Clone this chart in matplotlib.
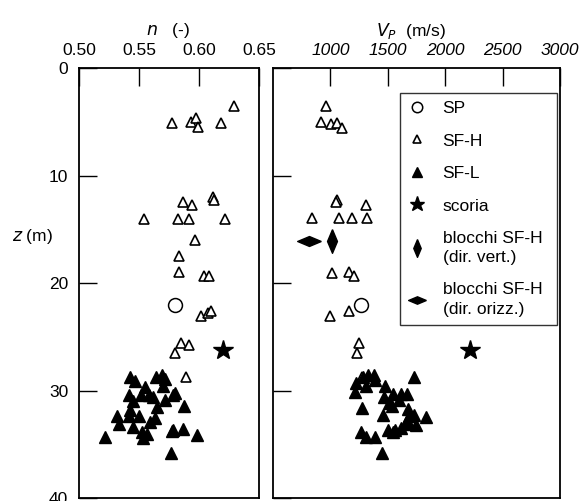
import matplotlib
matplotlib.use("Agg")
import matplotlib.pyplot as plt

plt.rcParams['font.family'] = ['Liberation Sans', 'DejaVu Sans']

# porosity n (-) vs depth z (m)
n_sp = [0.580]
z_n_sp = [22.0]
n_sfh = [0.629, 0.577, 0.593, 0.597, 0.599, 0.618, 0.611, 0.612, 0.586, 0.594,
         0.554, 0.582, 0.591, 0.621, 0.596, 0.583, 0.583, 0.604, 0.608,
         0.601, 0.607, 0.6095, 0.585, 0.591, 0.580, 0.589]
z_n_sfh = [3.5, 5.1, 5.0, 4.6, 5.5, 5.1, 12.0, 12.3, 12.5, 12.7,
           14.0, 14.0, 14.0, 14.0, 16.0, 17.5, 19.0, 19.3, 19.3,
           23.1, 22.8, 22.6, 25.6, 25.8, 26.5, 28.7]
n_sfl = [0.542, 0.546, 0.564, 0.569, 0.571, 0.570, 0.555, 0.541, 0.551, 0.558,
         0.561, 0.580, 0.578, 0.545, 0.571, 0.587, 0.565, 0.542, 0.531, 0.541,
         0.550, 0.563, 0.559, 0.533, 0.545, 0.552, 0.556, 0.553, 0.577, 0.578,
         0.586, 0.598, 0.521, 0.576]
z_n_sfl = [28.7, 29.1, 28.7, 28.6, 28.9, 29.6, 29.7, 30.4, 30.4, 30.4,
           30.6, 30.2, 30.4, 31.0, 30.9, 31.4, 31.5, 31.8, 32.4, 32.4,
           32.4, 32.6, 32.9, 33.1, 33.4, 33.9, 34.0, 34.4, 33.8, 33.7,
           33.6, 34.1, 34.3, 35.8]
n_scoria = [0.620]
z_n_scoria = [26.2]

# P-wave velocity Vp (m/s) vs depth z (m)
vp_sp = [1266]
z_vp_sp = [22.0]
vp_sfh = [960, 916, 1009, 1060, 1105, 1061, 1047, 1309, 843, 1076, 1192, 1318,
          1012, 1163, 1207, 997, 1166, 1245, 1231, 1275]
z_vp_sfh = [3.5, 5.0, 5.2, 5.1, 5.6, 12.3, 12.5, 12.7, 13.9, 13.9, 13.9, 13.9,
            19.1, 19.0, 19.3, 23.1, 22.6, 25.6, 26.5, 28.7]
vp_sfl = [1731, 1280, 1323, 1376, 1391, 1222, 1309, 1210, 1475, 1463,
          1542, 1615, 1664, 1513, 1537, 1600, 1271, 1673, 1461, 1688,
          1731, 1834, 1659, 1746, 1688, 1615, 1498, 1542, 1266, 1309,
          1391, 1449, 1565]
z_vp_sfl = [28.7, 28.7, 28.6, 28.6, 29.0, 29.3, 29.6, 30.1, 29.6, 30.6,
            30.3, 30.3, 30.3, 31.2, 31.4, 30.9, 31.6, 31.7, 32.3, 32.4,
            32.3, 32.5, 32.9, 33.2, 33.1, 33.5, 33.7, 33.9, 33.9, 34.3,
            34.3, 35.8, 33.7]
vp_scoria = [2212]
z_vp_scoria = [26.2]
vp_block_v = [1017]
z_vp_block_v = [16.1]
vp_block_h = [814]
z_vp_block_h = [16.1]

diam_v = [(0, 1), (0.42, 0), (0, -1), (-0.42, 0), (0, 1)]
diam_h = [(1, 0), (0, 0.42), (-1, 0), (0, -0.42), (1, 0)]

FS = 12.5

fig = plt.figure(figsize=(5.85, 5.01), dpi=100)
ax1 = fig.add_axes([0.1356, 0.006, 0.3077, 0.858])
ax2 = fig.add_axes([0.4667, 0.006, 0.4906, 0.858])

open_tri = dict(marker='^', ls='none', mfc='white', mec='black', mew=1.2, ms=7)
full_tri = dict(marker='^', ls='none', mfc='black', mec='black', ms=9)
circ = dict(marker='o', ls='none', mfc='white', mec='black', mew=1.1, ms=10)
star = dict(marker='*', ls='none', mfc='black', mec='black', ms=15)

ax1.plot(n_sfh, z_n_sfh, **open_tri)
ax1.plot(n_sfl, z_n_sfl, **full_tri)
ax1.plot(n_sp, z_n_sp, **circ)
ax1.plot(n_scoria, z_n_scoria, **star)

ax2.plot(vp_sp, z_vp_sp, label='SP', **circ)
ax2.plot(vp_sfh, z_vp_sfh, label='SF-H', **open_tri)
ax2.plot(vp_sfl, z_vp_sfl, label='SF-L', **full_tri)
ax2.plot(vp_scoria, z_vp_scoria, label='scoria', **star)
ax2.plot(vp_block_v, z_vp_block_v, marker=diam_v, ls='none', color='black',
         ms=17, label='blocchi SF-H\n(dir. vert.)')
ax2.plot(vp_block_h, z_vp_block_h, marker=diam_h, ls='none', color='black',
         ms=17, label='blocchi SF-H\n(dir. orizz.)')

for ax in (ax1, ax2):
    ax.set_ylim(40, 0)
    ax.xaxis.tick_top()
    ax.tick_params(direction='in', length=13, width=1, labelsize=FS,
                   top=True, bottom=False, right=False)
    ax.tick_params(axis='x', pad=7)
    ax.tick_params(axis='y', pad=8)
    ax.set_yticks([0, 10, 20, 30, 40])
    for s in ax.spines.values():
        s.set_linewidth(1.3)

ax1.set_xlim(0.50, 0.65)
ax1.set_xticks([0.50, 0.55, 0.60, 0.65])
ax1.set_xticklabels(['0.50', '0.55', '0.60', '0.65'])
ax1.set_yticklabels(['0', '10', '20', '30', '40'])

ax2.set_xlim(500, 3000)
ax2.set_xticks([1000, 1500, 2000, 2500, 3000])
ax2.set_xticklabels(['1000', '1500', '2000', '2500', '3000'], style='italic')
ax2.set_yticklabels([])

fig.text(168 / 585, 1 - 31 / 501, r'$\it{n}$   (-)', ha='center', va='center', fontsize=FS)
fig.text(411 / 585, 1 - 31 / 501, r'$V_P$  (m/s)', ha='center', va='center', fontsize=FS)
fig.text(32 / 585, 1 - 236 / 501, r'$\it{z}$ (m)', ha='center', va='center', fontsize=FS)

leg = ax2.legend(loc='upper left', bbox_to_anchor=(0.4425, 0.40, 0.5475, 0.542),
                 mode='expand', fontsize=FS, frameon=True, fancybox=False,
                 edgecolor='black', borderpad=0.45, handlelength=1.0,
                 handletextpad=1.0, labelspacing=1.0, borderaxespad=0,
                 markerscale=0.75)
for t in leg.get_texts():
    t.set_linespacing(1.35)
leg.get_frame().set_linewidth(1.0)

fig.savefig("out.png", dpi=100)
